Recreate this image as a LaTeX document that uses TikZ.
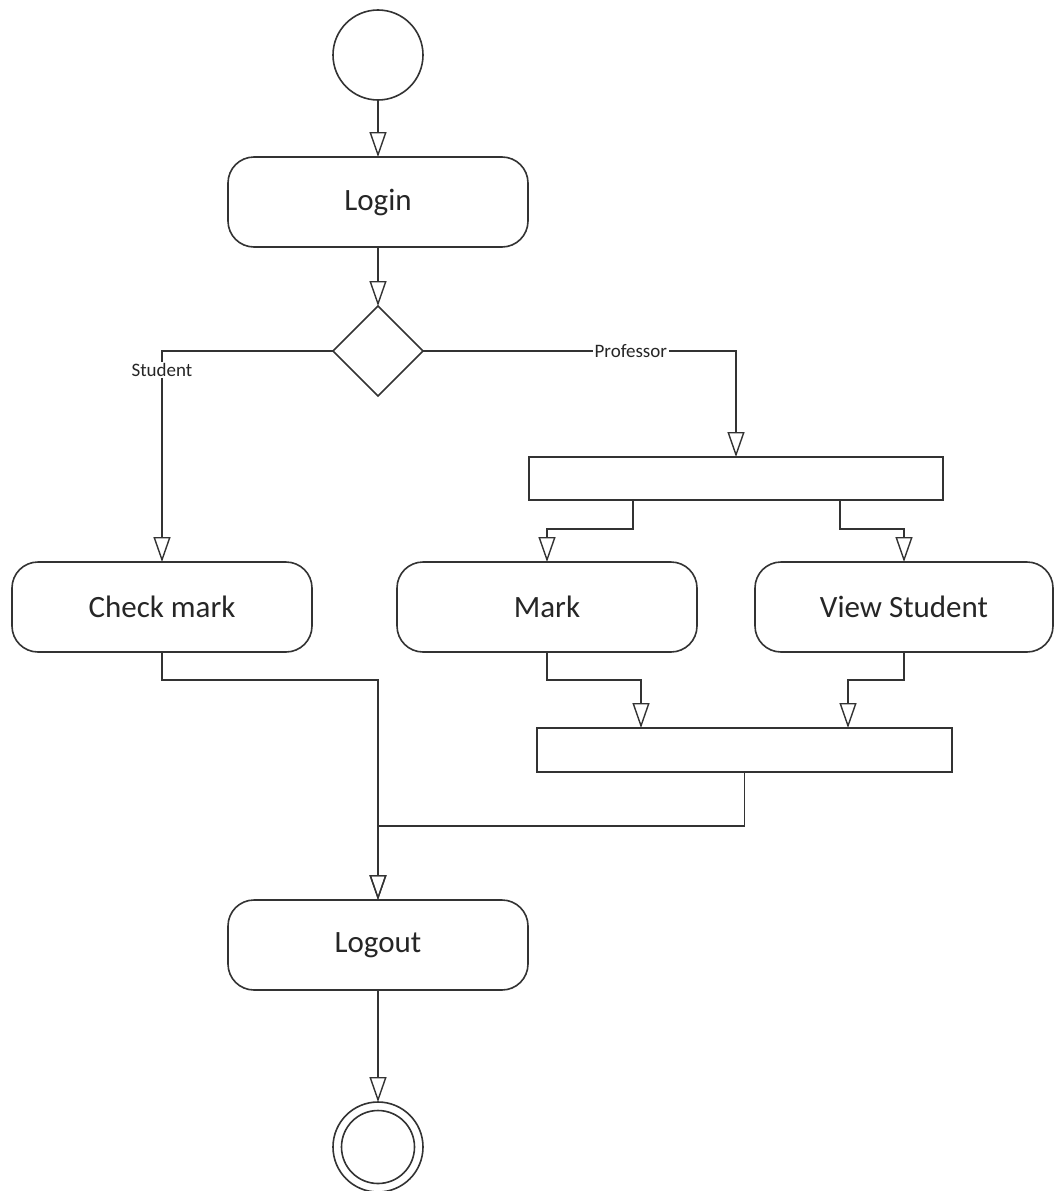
\documentclass[tikz,border=0pt]{standalone}
\usepackage{fontspec}
\setmainfont{Carlito}
\usetikzlibrary{arrows.meta,shapes.geometric}
\begin{document}
\begin{tikzpicture}[x=1pt,y=-1pt,
  line width=1.6pt, draw=black!80,
  every node/.style={inner sep=0pt, outer sep=0pt},
  flow/.style={draw=black!80, -{Triangle[open, width=17pt, length=25pt, line width=1.4pt]}},
  action/.style={draw, rectangle, rounded corners=26pt, minimum width=300pt,
    minimum height=90pt, fill=white, font=\fontsize{31}{36}\selectfont, text=black!85},
  bar/.style={draw, rectangle, fill=white},
  guard/.style={fill=white, font=\fontsize{19}{22}\selectfont, text=black!85, inner sep=1.5pt}]

\useasboundingbox (0,0) rectangle (1054,1191);

% initial and final states
\node[draw, circle, minimum size=90pt] (start) at (378,55) {};
\node[draw, circle, minimum size=90pt] (stop) at (378,1147) {};
\node[draw, circle, minimum size=73pt] (stopin) at (378,1147) {};

% actions
\node[action] (login)  at (378,202) {Login};
\node[action] (check)  at (162,607) {Check mark};
\node[action] (mark)   at (547,607) {Mark};
\node[action, minimum width=298pt] (view) at (904,607) {View Student};
\node[action] (logout) at (378,945) {Logout};

% decision
\node[draw, diamond, aspect=1, minimum width=90pt, minimum height=90pt] (dec) at (378,351) {};

% fork and join bars
\node[bar, minimum width=414pt, minimum height=43pt] (fork) at (736,478.5) {};
\node[bar, minimum width=415pt, minimum height=44pt] (join) at (744.5,750) {};

% anchor points on the bars
\coordinate (fo1) at (633,500);
\coordinate (fo2) at (840,500);
\coordinate (ji1) at (641,728);
\coordinate (ji2) at (848,728);

% flows
\draw[flow] (start) -- (login);
\draw[flow] (login) -- (dec);
\draw[flow] (dec.west) -| node[guard, pos=0.545] {Student} (check.north);
\draw[flow] (dec.east) -| node[guard, pos=0.332] {Professor} (fork.north);
\draw[flow] (fo1) -- ++(0,29) -| (mark.north);
\draw[flow] (fo2) -- ++(0,29) -| (view.north);
\draw[flow] (mark.south) -- ++(0,28) -| (ji1);
\draw[flow] (view.south) -- ++(0,28) -| (ji2);
\draw[flow] (check.south) -- ++(0,28) -| (logout.north);
\draw[flow] (join.south) -- ++(0,54) -| (logout.north);
\draw[flow] (logout) -- (stop);
\end{tikzpicture}
\end{document}
